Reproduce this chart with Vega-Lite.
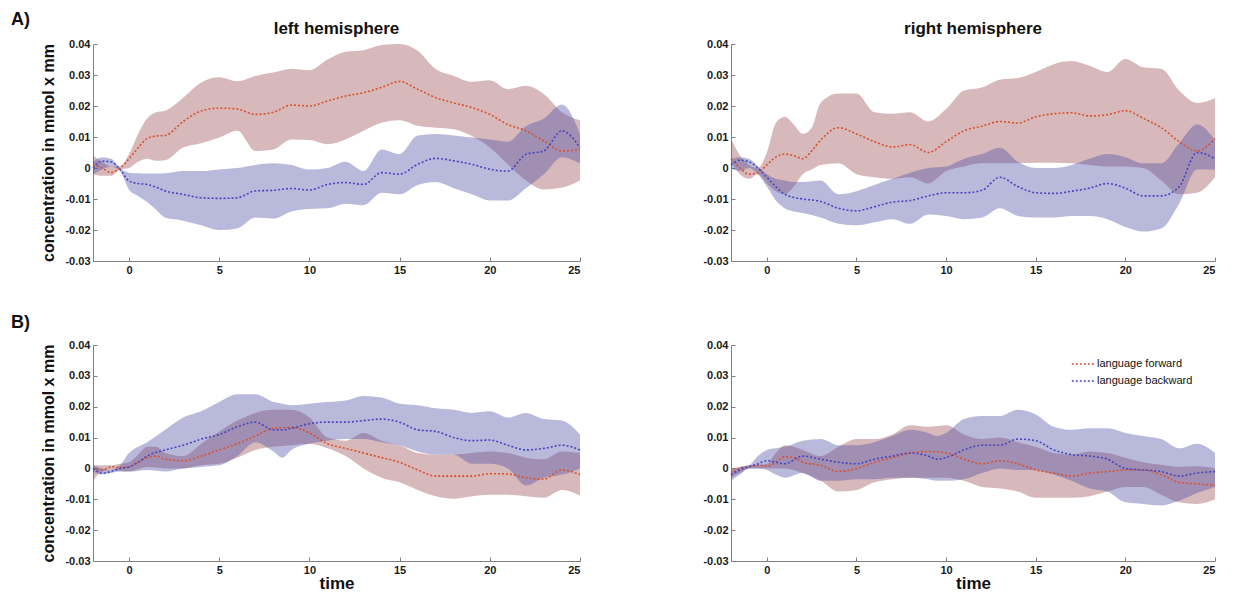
{
  "$schema": "https://vega.github.io/schema/vega-lite/v6.json",
  "padding": {"left": 10, "top": 11, "right": 0, "bottom": 0},
  "background": "white",
  "config": {
    "font": "Liberation Sans",
    "locale": {"number": {"decimal": ".", "thousands": ",", "grouping": [3], "currency": ["$", ""], "minus": "-"}},
    "view": {"stroke": null},
    "axis": {
      "labelFont": "Liberation Sans", "labelFontWeight": "bold", "labelFontSize": 11, "labelColor": "#1a1a1a",
      "domainColor": "#808080", "tickColor": "#808080", "tickSize": -4, "labelPadding": 7, "grid": false, "labelOverlap": false,
      "titleFont": "Liberation Sans", "titleFontWeight": "bold", "titleColor": "#111111"
    },
    "axisX": {"labelPadding": 7},
    "legend": {"orient": "none", "legendX": 340, "legendY": 7, "title": null, "symbolType": "stroke", "symbolDash": [2, 2], "symbolStrokeWidth": 1.6, "symbolSize": 500, "labelFont": "Liberation Sans", "labelFontSize": 11, "labelColor": "#111111", "labelOffset": 2, "rowPadding": -7},
    "title": {"font": "Liberation Sans", "fontWeight": "bold", "color": "#111111"}
  },
  "datasets": {
    "d": [
      {"p":"LA","s":"language forward","t":-2,"m":0.001,"lo":-0.002,"hi":0.004},
      {"p":"LA","s":"language forward","t":-1.5,"m":0,"lo":-0.0025,"hi":0.002},
      {"p":"LA","s":"language forward","t":-1,"m":-0.0015,"lo":-0.0025,"hi":0.0005},
      {"p":"LA","s":"language forward","t":-0.5,"m":0,"lo":-0.0005,"hi":0.0005},
      {"p":"LA","s":"language forward","t":0,"m":0.003,"lo":0,"hi":0.0045},
      {"p":"LA","s":"language forward","t":0.5,"m":0.0065,"lo":0.002,"hi":0.011},
      {"p":"LA","s":"language forward","t":1,"m":0.0095,"lo":0.003,"hi":0.016},
      {"p":"LA","s":"language forward","t":1.5,"m":0.0103,"lo":0.0023,"hi":0.018},
      {"p":"LA","s":"language forward","t":2,"m":0.0105,"lo":0.0025,"hi":0.0185},
      {"p":"LA","s":"language forward","t":3,"m":0.015,"lo":0.0066,"hi":0.0227},
      {"p":"LA","s":"language forward","t":4,"m":0.0184,"lo":0.008,"hi":0.0276},
      {"p":"LA","s":"language forward","t":5,"m":0.0193,"lo":0.0098,"hi":0.0293},
      {"p":"LA","s":"language forward","t":6,"m":0.019,"lo":0.012,"hi":0.028},
      {"p":"LA","s":"language forward","t":7,"m":0.0173,"lo":0.0055,"hi":0.0297},
      {"p":"LA","s":"language forward","t":8,"m":0.018,"lo":0.006,"hi":0.0308},
      {"p":"LA","s":"language forward","t":9,"m":0.0203,"lo":0.0092,"hi":0.032},
      {"p":"LA","s":"language forward","t":10,"m":0.02,"lo":0.009,"hi":0.0315},
      {"p":"LA","s":"language forward","t":11,"m":0.0216,"lo":0.0077,"hi":0.035},
      {"p":"LA","s":"language forward","t":12,"m":0.0232,"lo":0.0092,"hi":0.0375},
      {"p":"LA","s":"language forward","t":13,"m":0.0243,"lo":0.012,"hi":0.038},
      {"p":"LA","s":"language forward","t":14,"m":0.026,"lo":0.0146,"hi":0.0397},
      {"p":"LA","s":"language forward","t":15,"m":0.0279,"lo":0.0154,"hi":0.04},
      {"p":"LA","s":"language forward","t":16,"m":0.0254,"lo":0.0136,"hi":0.0378},
      {"p":"LA","s":"language forward","t":17,"m":0.0227,"lo":0.013,"hi":0.0319},
      {"p":"LA","s":"language forward","t":18,"m":0.021,"lo":0.0125,"hi":0.0297},
      {"p":"LA","s":"language forward","t":19,"m":0.0195,"lo":0.0103,"hi":0.0278},
      {"p":"LA","s":"language forward","t":20,"m":0.0173,"lo":0.0066,"hi":0.0283},
      {"p":"LA","s":"language forward","t":21,"m":0.014,"lo":0.0012,"hi":0.0254},
      {"p":"LA","s":"language forward","t":22,"m":0.012,"lo":-0.004,"hi":0.0265},
      {"p":"LA","s":"language forward","t":23,"m":0.0087,"lo":-0.0069,"hi":0.0238},
      {"p":"LA","s":"language forward","t":24,"m":0.0055,"lo":-0.0063,"hi":0.018},
      {"p":"LA","s":"language forward","t":25,"m":0.006,"lo":-0.004,"hi":0.0154},

      {"p":"LA","s":"language backward","t":-2,"m":0,"lo":-0.002,"hi":0.002},
      {"p":"LA","s":"language backward","t":-1.5,"m":0.0022,"lo":-0.0005,"hi":0.0035},
      {"p":"LA","s":"language backward","t":-1,"m":0.002,"lo":0.0005,"hi":0.003},
      {"p":"LA","s":"language backward","t":-0.5,"m":-0.0005,"lo":-0.001,"hi":0},
      {"p":"LA","s":"language backward","t":0,"m":-0.0042,"lo":-0.007,"hi":-0.0015},
      {"p":"LA","s":"language backward","t":0.5,"m":-0.005,"lo":-0.009,"hi":-0.0017},
      {"p":"LA","s":"language backward","t":1,"m":-0.0053,"lo":-0.011,"hi":-0.0018},
      {"p":"LA","s":"language backward","t":1.5,"m":-0.0062,"lo":-0.0135,"hi":-0.0018},
      {"p":"LA","s":"language backward","t":2,"m":-0.0074,"lo":-0.016,"hi":-0.0017},
      {"p":"LA","s":"language backward","t":3,"m":-0.0085,"lo":-0.017,"hi":-0.001},
      {"p":"LA","s":"language backward","t":4,"m":-0.0096,"lo":-0.0185,"hi":-0.001},
      {"p":"LA","s":"language backward","t":5,"m":-0.0098,"lo":-0.02,"hi":-0.0005},
      {"p":"LA","s":"language backward","t":6,"m":-0.0096,"lo":-0.0195,"hi":0},
      {"p":"LA","s":"language backward","t":7,"m":-0.0074,"lo":-0.016,"hi":0.001},
      {"p":"LA","s":"language backward","t":8,"m":-0.0072,"lo":-0.0163,"hi":0.0015},
      {"p":"LA","s":"language backward","t":9,"m":-0.0066,"lo":-0.014,"hi":0.001},
      {"p":"LA","s":"language backward","t":10,"m":-0.0071,"lo":-0.0132,"hi":-0.0005},
      {"p":"LA","s":"language backward","t":11,"m":-0.0053,"lo":-0.013,"hi":0},
      {"p":"LA","s":"language backward","t":12,"m":-0.0047,"lo":-0.0115,"hi":0.002},
      {"p":"LA","s":"language backward","t":13,"m":-0.0053,"lo":-0.012,"hi":-0.001},
      {"p":"LA","s":"language backward","t":14,"m":-0.0015,"lo":-0.008,"hi":0.006},
      {"p":"LA","s":"language backward","t":15,"m":-0.002,"lo":-0.0085,"hi":0.0045},
      {"p":"LA","s":"language backward","t":16,"m":0.0012,"lo":-0.0055,"hi":0.0105},
      {"p":"LA","s":"language backward","t":17,"m":0.0031,"lo":-0.0045,"hi":0.011},
      {"p":"LA","s":"language backward","t":18,"m":0.0023,"lo":-0.0065,"hi":0.0105},
      {"p":"LA","s":"language backward","t":19,"m":0.0012,"lo":-0.0085,"hi":0.0098},
      {"p":"LA","s":"language backward","t":20,"m":-0.0004,"lo":-0.0105,"hi":0.0092},
      {"p":"LA","s":"language backward","t":21,"m":-0.001,"lo":-0.0105,"hi":0.0085},
      {"p":"LA","s":"language backward","t":22,"m":0.0044,"lo":-0.0065,"hi":0.0135},
      {"p":"LA","s":"language backward","t":23,"m":0.0055,"lo":-0.002,"hi":0.016},
      {"p":"LA","s":"language backward","t":24,"m":0.012,"lo":0.0035,"hi":0.0205},
      {"p":"LA","s":"language backward","t":25,"m":0.0066,"lo":0.0015,"hi":0.011},

      {"p":"RA","s":"language forward","t":-2,"m":0.003,"lo":0.002,"hi":0.0095},
      {"p":"RA","s":"language forward","t":-1.5,"m":0,"lo":-0.002,"hi":0.004},
      {"p":"RA","s":"language forward","t":-1,"m":-0.002,"lo":-0.0035,"hi":0.001},
      {"p":"RA","s":"language forward","t":-0.5,"m":-0.0015,"lo":-0.002,"hi":0},
      {"p":"RA","s":"language forward","t":0,"m":0.001,"lo":-0.005,"hi":0.005},
      {"p":"RA","s":"language forward","t":0.5,"m":0.0035,"lo":-0.0075,"hi":0.0145},
      {"p":"RA","s":"language forward","t":1,"m":0.0045,"lo":-0.0085,"hi":0.0165},
      {"p":"RA","s":"language forward","t":1.5,"m":0.004,"lo":-0.006,"hi":0.014},
      {"p":"RA","s":"language forward","t":2,"m":0.003,"lo":-0.002,"hi":0.011},
      {"p":"RA","s":"language forward","t":2.5,"m":0.0055,"lo":-0.0005,"hi":0.013},
      {"p":"RA","s":"language forward","t":3,"m":0.009,"lo":0.001,"hi":0.021},
      {"p":"RA","s":"language forward","t":4,"m":0.013,"lo":0.0015,"hi":0.024},
      {"p":"RA","s":"language forward","t":5,"m":0.011,"lo":-0.002,"hi":0.024},
      {"p":"RA","s":"language forward","t":6,"m":0.0085,"lo":-0.003,"hi":0.018},
      {"p":"RA","s":"language forward","t":7,"m":0.0068,"lo":-0.0035,"hi":0.0175},
      {"p":"RA","s":"language forward","t":8,"m":0.0075,"lo":-0.003,"hi":0.018},
      {"p":"RA","s":"language forward","t":9,"m":0.005,"lo":-0.005,"hi":0.015},
      {"p":"RA","s":"language forward","t":10,"m":0.0085,"lo":-0.001,"hi":0.019},
      {"p":"RA","s":"language forward","t":11,"m":0.012,"lo":0.0005,"hi":0.025},
      {"p":"RA","s":"language forward","t":12,"m":0.0135,"lo":0.0015,"hi":0.026},
      {"p":"RA","s":"language forward","t":13,"m":0.015,"lo":0.0015,"hi":0.0285},
      {"p":"RA","s":"language forward","t":14,"m":0.0145,"lo":0.0015,"hi":0.029},
      {"p":"RA","s":"language forward","t":15,"m":0.0165,"lo":0.0017,"hi":0.031},
      {"p":"RA","s":"language forward","t":16,"m":0.0175,"lo":0.0017,"hi":0.0335},
      {"p":"RA","s":"language forward","t":17,"m":0.0178,"lo":0.0015,"hi":0.0345},
      {"p":"RA","s":"language forward","t":18,"m":0.0168,"lo":0.001,"hi":0.033},
      {"p":"RA","s":"language forward","t":19,"m":0.0172,"lo":0.0005,"hi":0.031},
      {"p":"RA","s":"language forward","t":20,"m":0.0185,"lo":0.0005,"hi":0.0352},
      {"p":"RA","s":"language forward","t":21,"m":0.016,"lo":0,"hi":0.0325},
      {"p":"RA","s":"language forward","t":22,"m":0.013,"lo":-0.004,"hi":0.032},
      {"p":"RA","s":"language forward","t":23,"m":0.0085,"lo":-0.0085,"hi":0.025},
      {"p":"RA","s":"language forward","t":24,"m":0.0055,"lo":-0.008,"hi":0.021},
      {"p":"RA","s":"language forward","t":25,"m":0.0095,"lo":-0.003,"hi":0.0225},

      {"p":"RA","s":"language backward","t":-2,"m":0.001,"lo":0,"hi":0.003},
      {"p":"RA","s":"language backward","t":-1.5,"m":0.0025,"lo":-0.001,"hi":0.0035},
      {"p":"RA","s":"language backward","t":-1,"m":0.002,"lo":0,"hi":0.003},
      {"p":"RA","s":"language backward","t":-0.5,"m":0,"lo":-0.002,"hi":0.0005},
      {"p":"RA","s":"language backward","t":0,"m":-0.003,"lo":-0.006,"hi":-0.002},
      {"p":"RA","s":"language backward","t":0.5,"m":-0.006,"lo":-0.0105,"hi":-0.0035},
      {"p":"RA","s":"language backward","t":1,"m":-0.0085,"lo":-0.013,"hi":-0.004},
      {"p":"RA","s":"language backward","t":1.5,"m":-0.0095,"lo":-0.014,"hi":-0.0045},
      {"p":"RA","s":"language backward","t":2,"m":-0.01,"lo":-0.0145,"hi":-0.0045},
      {"p":"RA","s":"language backward","t":3,"m":-0.0108,"lo":-0.016,"hi":-0.004},
      {"p":"RA","s":"language backward","t":4,"m":-0.013,"lo":-0.018,"hi":-0.0085},
      {"p":"RA","s":"language backward","t":5,"m":-0.0138,"lo":-0.0185,"hi":-0.0075},
      {"p":"RA","s":"language backward","t":6,"m":-0.0125,"lo":-0.0175,"hi":-0.0055},
      {"p":"RA","s":"language backward","t":7,"m":-0.011,"lo":-0.0165,"hi":-0.0035},
      {"p":"RA","s":"language backward","t":8,"m":-0.0105,"lo":-0.018,"hi":-0.0015},
      {"p":"RA","s":"language backward","t":9,"m":-0.009,"lo":-0.015,"hi":0},
      {"p":"RA","s":"language backward","t":10,"m":-0.008,"lo":-0.0155,"hi":0.0005},
      {"p":"RA","s":"language backward","t":11,"m":-0.008,"lo":-0.0165,"hi":0.003},
      {"p":"RA","s":"language backward","t":12,"m":-0.0072,"lo":-0.016,"hi":0.0045},
      {"p":"RA","s":"language backward","t":13,"m":-0.003,"lo":-0.013,"hi":0.0065},
      {"p":"RA","s":"language backward","t":14,"m":-0.006,"lo":-0.0155,"hi":0.002},
      {"p":"RA","s":"language backward","t":15,"m":-0.008,"lo":-0.016,"hi":0},
      {"p":"RA","s":"language backward","t":16,"m":-0.0082,"lo":-0.016,"hi":0},
      {"p":"RA","s":"language backward","t":17,"m":-0.0075,"lo":-0.0155,"hi":0.001},
      {"p":"RA","s":"language backward","t":18,"m":-0.0065,"lo":-0.0155,"hi":0.003},
      {"p":"RA","s":"language backward","t":19,"m":-0.005,"lo":-0.0165,"hi":0.0045},
      {"p":"RA","s":"language backward","t":20,"m":-0.0065,"lo":-0.019,"hi":0.0035},
      {"p":"RA","s":"language backward","t":21,"m":-0.009,"lo":-0.0205,"hi":0.0015},
      {"p":"RA","s":"language backward","t":22,"m":-0.009,"lo":-0.0195,"hi":0.0015},
      {"p":"RA","s":"language backward","t":23,"m":-0.006,"lo":-0.0115,"hi":0.008},
      {"p":"RA","s":"language backward","t":24,"m":0.005,"lo":-0.0005,"hi":0.014},
      {"p":"RA","s":"language backward","t":25,"m":0.003,"lo":-0.0005,"hi":0.009},

      {"p":"LB","s":"language forward","t":-2,"m":0,"lo":-0.004,"hi":0.001},
      {"p":"LB","s":"language forward","t":-1.5,"m":-0.0005,"lo":-0.001,"hi":0.001},
      {"p":"LB","s":"language forward","t":-1,"m":0.0005,"lo":-0.0005,"hi":0.001},
      {"p":"LB","s":"language forward","t":-0.5,"m":0.0003,"lo":-0.0008,"hi":0.0015},
      {"p":"LB","s":"language forward","t":0,"m":0.0005,"lo":-0.001,"hi":0.002},
      {"p":"LB","s":"language forward","t":0.5,"m":0.002,"lo":-0.0002,"hi":0.0045},
      {"p":"LB","s":"language forward","t":1,"m":0.0035,"lo":0.0005,"hi":0.007},
      {"p":"LB","s":"language forward","t":1.5,"m":0.004,"lo":0.0003,"hi":0.007},
      {"p":"LB","s":"language forward","t":2,"m":0.003,"lo":0,"hi":0.005},
      {"p":"LB","s":"language forward","t":3,"m":0.0025,"lo":0,"hi":0.004},
      {"p":"LB","s":"language forward","t":4,"m":0.004,"lo":0.001,"hi":0.008},
      {"p":"LB","s":"language forward","t":5,"m":0.006,"lo":0.0015,"hi":0.012},
      {"p":"LB","s":"language forward","t":6,"m":0.008,"lo":0.0035,"hi":0.0155},
      {"p":"LB","s":"language forward","t":7,"m":0.0105,"lo":0.006,"hi":0.018},
      {"p":"LB","s":"language forward","t":8,"m":0.013,"lo":0.007,"hi":0.019},
      {"p":"LB","s":"language forward","t":9,"m":0.0133,"lo":0.0075,"hi":0.019},
      {"p":"LB","s":"language forward","t":10,"m":0.0115,"lo":0.008,"hi":0.0165},
      {"p":"LB","s":"language forward","t":11,"m":0.008,"lo":0.0065,"hi":0.01},
      {"p":"LB","s":"language forward","t":12,"m":0.0065,"lo":0.004,"hi":0.009},
      {"p":"LB","s":"language forward","t":13,"m":0.005,"lo":0,"hi":0.0115},
      {"p":"LB","s":"language forward","t":14,"m":0.0035,"lo":-0.003,"hi":0.009},
      {"p":"LB","s":"language forward","t":15,"m":0.002,"lo":-0.0045,"hi":0.0075},
      {"p":"LB","s":"language forward","t":16,"m":-0.0005,"lo":-0.007,"hi":0.005},
      {"p":"LB","s":"language forward","t":17,"m":-0.0025,"lo":-0.009,"hi":0.0045},
      {"p":"LB","s":"language forward","t":18,"m":-0.0025,"lo":-0.0098,"hi":0.0045},
      {"p":"LB","s":"language forward","t":19,"m":-0.0025,"lo":-0.009,"hi":0.005},
      {"p":"LB","s":"language forward","t":20,"m":-0.0017,"lo":-0.0085,"hi":0.0055},
      {"p":"LB","s":"language forward","t":21,"m":-0.0018,"lo":-0.0085,"hi":0.005},
      {"p":"LB","s":"language forward","t":22,"m":-0.003,"lo":-0.009,"hi":0.0035},
      {"p":"LB","s":"language forward","t":23,"m":-0.0035,"lo":-0.0095,"hi":0.003},
      {"p":"LB","s":"language forward","t":24,"m":-0.0005,"lo":-0.007,"hi":0.0055},
      {"p":"LB","s":"language forward","t":25,"m":-0.002,"lo":-0.0088,"hi":0.005},

      {"p":"LB","s":"language backward","t":-2,"m":0,"lo":-0.001,"hi":0.001},
      {"p":"LB","s":"language backward","t":-1.5,"m":-0.0015,"lo":-0.002,"hi":0},
      {"p":"LB","s":"language backward","t":-1,"m":-0.001,"lo":-0.0015,"hi":-0.0005},
      {"p":"LB","s":"language backward","t":-0.5,"m":0,"lo":-0.001,"hi":0.001},
      {"p":"LB","s":"language backward","t":0,"m":0.0005,"lo":-0.001,"hi":0.005},
      {"p":"LB","s":"language backward","t":0.5,"m":0.002,"lo":-0.0008,"hi":0.007},
      {"p":"LB","s":"language backward","t":1,"m":0.004,"lo":-0.0005,"hi":0.0085},
      {"p":"LB","s":"language backward","t":2,"m":0.006,"lo":-0.001,"hi":0.0125},
      {"p":"LB","s":"language backward","t":3,"m":0.0075,"lo":0,"hi":0.0165},
      {"p":"LB","s":"language backward","t":4,"m":0.0095,"lo":0.0005,"hi":0.0185},
      {"p":"LB","s":"language backward","t":5,"m":0.011,"lo":0.001,"hi":0.0215},
      {"p":"LB","s":"language backward","t":6,"m":0.0135,"lo":0.004,"hi":0.024},
      {"p":"LB","s":"language backward","t":7,"m":0.015,"lo":0.0085,"hi":0.024},
      {"p":"LB","s":"language backward","t":8,"m":0.0125,"lo":0.0055,"hi":0.0215},
      {"p":"LB","s":"language backward","t":8.5,"m":0.0125,"lo":0.0035,"hi":0.021},
      {"p":"LB","s":"language backward","t":9,"m":0.013,"lo":0.006,"hi":0.0205},
      {"p":"LB","s":"language backward","t":10,"m":0.0145,"lo":0.008,"hi":0.021},
      {"p":"LB","s":"language backward","t":11,"m":0.015,"lo":0.009,"hi":0.0215},
      {"p":"LB","s":"language backward","t":12,"m":0.015,"lo":0.0095,"hi":0.022},
      {"p":"LB","s":"language backward","t":13,"m":0.0155,"lo":0.0095,"hi":0.0235},
      {"p":"LB","s":"language backward","t":14,"m":0.016,"lo":0.0085,"hi":0.023},
      {"p":"LB","s":"language backward","t":15,"m":0.015,"lo":0.0075,"hi":0.021},
      {"p":"LB","s":"language backward","t":16,"m":0.0125,"lo":0.0055,"hi":0.0205},
      {"p":"LB","s":"language backward","t":17,"m":0.012,"lo":0.0045,"hi":0.0195},
      {"p":"LB","s":"language backward","t":18,"m":0.01,"lo":0.0045,"hi":0.019},
      {"p":"LB","s":"language backward","t":19,"m":0.009,"lo":0.0015,"hi":0.018},
      {"p":"LB","s":"language backward","t":20,"m":0.0092,"lo":0.0015,"hi":0.0185},
      {"p":"LB","s":"language backward","t":21,"m":0.0075,"lo":0,"hi":0.0165},
      {"p":"LB","s":"language backward","t":22,"m":0.006,"lo":-0.0055,"hi":0.018},
      {"p":"LB","s":"language backward","t":23,"m":0.0065,"lo":-0.003,"hi":0.016},
      {"p":"LB","s":"language backward","t":24,"m":0.0075,"lo":-0.002,"hi":0.0155},
      {"p":"LB","s":"language backward","t":25,"m":0.006,"lo":0,"hi":0.011},

      {"p":"RB","s":"language forward","t":-2,"m":-0.002,"lo":-0.003,"hi":0},
      {"p":"RB","s":"language forward","t":-1.5,"m":0,"lo":-0.0015,"hi":0.0005},
      {"p":"RB","s":"language forward","t":-1,"m":0.0005,"lo":0,"hi":0.001},
      {"p":"RB","s":"language forward","t":-0.5,"m":0.001,"lo":0,"hi":0.0012},
      {"p":"RB","s":"language forward","t":0,"m":0.0007,"lo":0,"hi":0.0015},
      {"p":"RB","s":"language forward","t":0.5,"m":0.002,"lo":0,"hi":0.005},
      {"p":"RB","s":"language forward","t":1,"m":0.0038,"lo":0,"hi":0.0075},
      {"p":"RB","s":"language forward","t":1.5,"m":0.0035,"lo":-0.0005,"hi":0.007},
      {"p":"RB","s":"language forward","t":2,"m":0.002,"lo":-0.0015,"hi":0.006},
      {"p":"RB","s":"language forward","t":3,"m":0.001,"lo":-0.004,"hi":0.004},
      {"p":"RB","s":"language forward","t":4,"m":-0.001,"lo":-0.0075,"hi":0.007},
      {"p":"RB","s":"language forward","t":5,"m":0,"lo":-0.007,"hi":0.0095},
      {"p":"RB","s":"language forward","t":6,"m":0.002,"lo":-0.0045,"hi":0.0095},
      {"p":"RB","s":"language forward","t":7,"m":0.0035,"lo":-0.0035,"hi":0.011},
      {"p":"RB","s":"language forward","t":8,"m":0.005,"lo":-0.003,"hi":0.014},
      {"p":"RB","s":"language forward","t":9,"m":0.0055,"lo":-0.003,"hi":0.0135},
      {"p":"RB","s":"language forward","t":10,"m":0.005,"lo":-0.003,"hi":0.014},
      {"p":"RB","s":"language forward","t":11,"m":0.003,"lo":-0.004,"hi":0.011},
      {"p":"RB","s":"language forward","t":12,"m":0.0015,"lo":-0.006,"hi":0.0095},
      {"p":"RB","s":"language forward","t":13,"m":0.0025,"lo":-0.0065,"hi":0.01},
      {"p":"RB","s":"language forward","t":14,"m":0.0015,"lo":-0.0075,"hi":0.0085},
      {"p":"RB","s":"language forward","t":15,"m":-0.0005,"lo":-0.0095,"hi":0.007},
      {"p":"RB","s":"language forward","t":16,"m":-0.0015,"lo":-0.0095,"hi":0.005},
      {"p":"RB","s":"language forward","t":17,"m":-0.0025,"lo":-0.0095,"hi":0.0045},
      {"p":"RB","s":"language forward","t":18,"m":-0.0015,"lo":-0.009,"hi":0.0055},
      {"p":"RB","s":"language forward","t":19,"m":-0.001,"lo":-0.0075,"hi":0.005},
      {"p":"RB","s":"language forward","t":20,"m":-0.0005,"lo":-0.006,"hi":0.0035},
      {"p":"RB","s":"language forward","t":21,"m":-0.0005,"lo":-0.006,"hi":0.002},
      {"p":"RB","s":"language forward","t":22,"m":-0.002,"lo":-0.0085,"hi":0.0012},
      {"p":"RB","s":"language forward","t":23,"m":-0.0045,"lo":-0.011,"hi":0.0005},
      {"p":"RB","s":"language forward","t":24,"m":-0.005,"lo":-0.0115,"hi":0.0007},
      {"p":"RB","s":"language forward","t":25,"m":-0.0055,"lo":-0.01,"hi":0},

      {"p":"RB","s":"language backward","t":-2,"m":-0.002,"lo":-0.004,"hi":-0.0005},
      {"p":"RB","s":"language backward","t":-1.5,"m":-0.0005,"lo":-0.002,"hi":0.0005},
      {"p":"RB","s":"language backward","t":-1,"m":0.0005,"lo":0,"hi":0.001},
      {"p":"RB","s":"language backward","t":-0.5,"m":0.0015,"lo":0,"hi":0.004},
      {"p":"RB","s":"language backward","t":0,"m":0.0025,"lo":-0.0005,"hi":0.006},
      {"p":"RB","s":"language backward","t":0.5,"m":0.002,"lo":-0.002,"hi":0.0065},
      {"p":"RB","s":"language backward","t":1,"m":0.0015,"lo":-0.003,"hi":0.007},
      {"p":"RB","s":"language backward","t":2,"m":0.004,"lo":-0.0015,"hi":0.009},
      {"p":"RB","s":"language backward","t":3,"m":0.003,"lo":-0.004,"hi":0.0095},
      {"p":"RB","s":"language backward","t":4,"m":0.002,"lo":-0.004,"hi":0.0075},
      {"p":"RB","s":"language backward","t":5,"m":0.0015,"lo":-0.0035,"hi":0.0075},
      {"p":"RB","s":"language backward","t":6,"m":0.003,"lo":-0.0035,"hi":0.0085},
      {"p":"RB","s":"language backward","t":7,"m":0.004,"lo":-0.003,"hi":0.0105},
      {"p":"RB","s":"language backward","t":8,"m":0.005,"lo":-0.003,"hi":0.0125},
      {"p":"RB","s":"language backward","t":9,"m":0.004,"lo":-0.0035,"hi":0.0115},
      {"p":"RB","s":"language backward","t":9.5,"m":0.003,"lo":-0.004,"hi":0.0105},
      {"p":"RB","s":"language backward","t":10,"m":0.0035,"lo":-0.004,"hi":0.0115},
      {"p":"RB","s":"language backward","t":11,"m":0.006,"lo":-0.0035,"hi":0.016},
      {"p":"RB","s":"language backward","t":12,"m":0.0075,"lo":-0.0015,"hi":0.017},
      {"p":"RB","s":"language backward","t":13,"m":0.0075,"lo":0,"hi":0.017},
      {"p":"RB","s":"language backward","t":14,"m":0.0095,"lo":-0.0005,"hi":0.019},
      {"p":"RB","s":"language backward","t":15,"m":0.009,"lo":-0.0005,"hi":0.0175},
      {"p":"RB","s":"language backward","t":16,"m":0.006,"lo":-0.002,"hi":0.0135},
      {"p":"RB","s":"language backward","t":17,"m":0.0045,"lo":-0.004,"hi":0.0125},
      {"p":"RB","s":"language backward","t":18,"m":0.004,"lo":-0.0065,"hi":0.013},
      {"p":"RB","s":"language backward","t":19,"m":0.003,"lo":-0.0075,"hi":0.013},
      {"p":"RB","s":"language backward","t":20,"m":0,"lo":-0.011,"hi":0.0115},
      {"p":"RB","s":"language backward","t":21,"m":-0.0005,"lo":-0.0115,"hi":0.0105},
      {"p":"RB","s":"language backward","t":22,"m":-0.001,"lo":-0.012,"hi":0.0095},
      {"p":"RB","s":"language backward","t":23,"m":-0.0025,"lo":-0.0105,"hi":0.0065},
      {"p":"RB","s":"language backward","t":24,"m":-0.0015,"lo":-0.008,"hi":0.008},
      {"p":"RB","s":"language backward","t":25,"m":-0.001,"lo":-0.006,"hi":0.005}
    ]
  },
  "resolve": {"scale": {"stroke": "independent", "fill": "independent"}, "legend": {"stroke": "independent", "fill": "independent"}},
  "spacing": 39,
  "vconcat": [
    {
      "title": {"text": "A)", "anchor": "start", "fontSize": 18, "fontWeight": "bold", "dx": -30, "dy": 9, "offset": 0},
      "spacing": 118,
      "resolve": {"scale": {"stroke": "independent", "fill": "independent"}, "legend": {"stroke": "independent", "fill": "independent"}},
      "hconcat": [
        {
          "width": 487, "height": 217,
          "title": {"text": "left hemisphere", "frame": "group", "fontSize": 17, "offset": 0},
          "data": {"name": "d"},
          "transform": [{"filter": "datum.p == 'LA'"}],
          "encoding": {"x": {"field": "t", "type": "quantitative", "scale": {"domain": [-2, 25], "nice": false, "zero": false}, "axis": {"values": [0, 5, 10, 15, 20, 25], "title": null}}},
          "layer": [
            {"mark": {"type": "area", "interpolate": "monotone", "fillOpacity": 0.4},
             "encoding": {"y": {"field": "lo", "type": "quantitative", "scale": {"domain": [-0.03, 0.04], "nice": false}, "axis": {"values": [-0.03, -0.02, -0.01, 0, 0.01, 0.02, 0.03, 0.04], "labelOverlap": false, "format": ".2~f", "title": "concentration in mmol x mm", "titleFontSize": 16, "titlePadding": 8}},
                          "y2": {"field": "hi"},
                          "fill": {"field": "s", "type": "nominal", "scale": {"domain": ["language forward", "language backward"], "range": ["#9c4f55", "#5050a8"]}, "legend": null}}},
            {"mark": {"type": "line", "interpolate": "monotone", "strokeDash": [2, 2], "strokeWidth": 1.6},
             "encoding": {"y": {"field": "m", "type": "quantitative", "axis": {"values": [-0.03, -0.02, -0.01, 0, 0.01, 0.02, 0.03, 0.04], "labelOverlap": false, "format": ".2~f", "title": "concentration in mmol x mm", "titleFontSize": 16, "titlePadding": 8}},
                          "stroke": {"field": "s", "type": "nominal", "scale": {"domain": ["language forward", "language backward"], "range": ["#d9502a", "#4545c0"]}, "legend": null}}}
          ]
        },
        {
          "width": 484, "height": 217,
          "title": {"text": "right hemisphere", "frame": "group", "fontSize": 17, "offset": 0},
          "data": {"name": "d"},
          "transform": [{"filter": "datum.p == 'RA'"}],
          "encoding": {"x": {"field": "t", "type": "quantitative", "scale": {"domain": [-2, 25], "nice": false, "zero": false}, "axis": {"values": [0, 5, 10, 15, 20, 25], "title": null}}},
          "layer": [
            {"mark": {"type": "area", "interpolate": "monotone", "fillOpacity": 0.4},
             "encoding": {"y": {"field": "lo", "type": "quantitative", "scale": {"domain": [-0.03, 0.04], "nice": false}, "axis": {"values": [-0.03, -0.02, -0.01, 0, 0.01, 0.02, 0.03, 0.04], "labelOverlap": false, "format": ".2~f", "title": null}},
                          "y2": {"field": "hi"},
                          "fill": {"field": "s", "type": "nominal", "scale": {"domain": ["language forward", "language backward"], "range": ["#9c4f55", "#5050a8"]}, "legend": null}}},
            {"mark": {"type": "line", "interpolate": "monotone", "strokeDash": [2, 2], "strokeWidth": 1.6},
             "encoding": {"y": {"field": "m", "type": "quantitative", "axis": {"values": [-0.03, -0.02, -0.01, 0, 0.01, 0.02, 0.03, 0.04], "labelOverlap": false, "format": ".2~f", "title": null}},
                          "stroke": {"field": "s", "type": "nominal", "scale": {"domain": ["language forward", "language backward"], "range": ["#d9502a", "#4545c0"]}, "legend": null}}}
          ]
        }
      ]
    },
    {
      "title": {"text": "B)", "anchor": "start", "fontSize": 18, "fontWeight": "bold", "dx": -30, "offset": 7},
      "spacing": 118,
      "resolve": {"scale": {"stroke": "independent", "fill": "independent"}, "legend": {"stroke": "independent", "fill": "independent"}},
      "hconcat": [
        {
          "width": 487, "height": 216,
          "data": {"name": "d"},
          "transform": [{"filter": "datum.p == 'LB'"}],
          "encoding": {"x": {"field": "t", "type": "quantitative", "scale": {"domain": [-2, 25], "nice": false, "zero": false}, "axis": {"values": [0, 5, 10, 15, 20, 25], "title": "time", "titleFontSize": 17, "titlePadding": 0}}},
          "layer": [
            {"mark": {"type": "area", "interpolate": "monotone", "fillOpacity": 0.4},
             "encoding": {"y": {"field": "lo", "type": "quantitative", "scale": {"domain": [-0.03, 0.04], "nice": false}, "axis": {"values": [-0.03, -0.02, -0.01, 0, 0.01, 0.02, 0.03, 0.04], "labelOverlap": false, "format": ".2~f", "title": "concentration in mmol x mm", "titleFontSize": 16, "titlePadding": 8}},
                          "y2": {"field": "hi"},
                          "fill": {"field": "s", "type": "nominal", "scale": {"domain": ["language forward", "language backward"], "range": ["#9c4f55", "#5050a8"]}, "legend": null}}},
            {"mark": {"type": "line", "interpolate": "monotone", "strokeDash": [2, 2], "strokeWidth": 1.6},
             "encoding": {"y": {"field": "m", "type": "quantitative", "axis": {"values": [-0.03, -0.02, -0.01, 0, 0.01, 0.02, 0.03, 0.04], "labelOverlap": false, "format": ".2~f", "title": "concentration in mmol x mm", "titleFontSize": 16, "titlePadding": 8}},
                          "stroke": {"field": "s", "type": "nominal", "scale": {"domain": ["language forward", "language backward"], "range": ["#d9502a", "#4545c0"]}, "legend": null}}}
          ]
        },
        {
          "width": 484, "height": 216,
          "data": {"name": "d"},
          "transform": [{"filter": "datum.p == 'RB'"}],
          "encoding": {"x": {"field": "t", "type": "quantitative", "scale": {"domain": [-2, 25], "nice": false, "zero": false}, "axis": {"values": [0, 5, 10, 15, 20, 25], "title": "time", "titleFontSize": 17, "titlePadding": 0}}},
          "layer": [
            {"mark": {"type": "area", "interpolate": "monotone", "fillOpacity": 0.4},
             "encoding": {"y": {"field": "lo", "type": "quantitative", "scale": {"domain": [-0.03, 0.04], "nice": false}, "axis": {"values": [-0.03, -0.02, -0.01, 0, 0.01, 0.02, 0.03, 0.04], "labelOverlap": false, "format": ".2~f", "title": null}},
                          "y2": {"field": "hi"},
                          "fill": {"field": "s", "type": "nominal", "scale": {"domain": ["language forward", "language backward"], "range": ["#9c4f55", "#5050a8"]}}}},
            {"mark": {"type": "line", "interpolate": "monotone", "strokeDash": [2, 2], "strokeWidth": 1.6},
             "encoding": {"y": {"field": "m", "type": "quantitative", "axis": {"values": [-0.03, -0.02, -0.01, 0, 0.01, 0.02, 0.03, 0.04], "labelOverlap": false, "format": ".2~f", "title": null}},
                          "stroke": {"field": "s", "type": "nominal", "scale": {"domain": ["language forward", "language backward"], "range": ["#d9502a", "#4545c0"]}}}}
          ]
        }
      ]
    }
  ]
}
